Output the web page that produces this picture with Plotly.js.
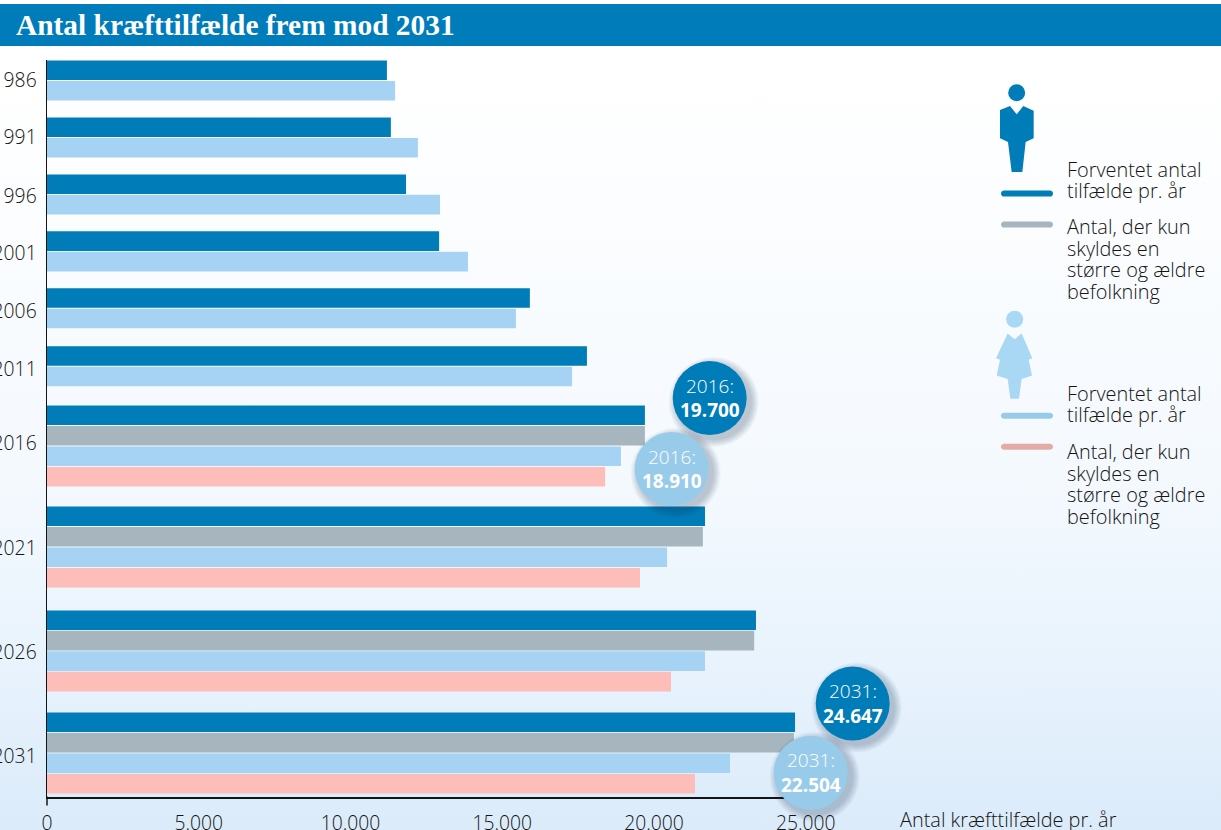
<!DOCTYPE html>
<html lang="da">
<head>
<meta charset="utf-8">
<title>Antal kræfttilfælde frem mod 2031</title>
<script src="https://cdn.plot.ly/plotly-3.0.1.min.js"></script>
<style>
html,body{margin:0;padding:0;width:1221px;height:830px;overflow:hidden}
body{background:linear-gradient(to bottom,#ffffff 0px,#ffffff 70px,#f4f9fe 480px,#eaf4fd 640px,#dbebfa 830px)}
#chart{width:1221px;height:830px}
</style>
</head>
<body>
<div id="chart"></div>
<script>
// ---------- data ----------
const years = ['1986','1991','1996','2001','2006','2011','2016','2021','2026','2031'];
const menExpected   = [11200,11330,11830,12920,15910,17790,19700,21680,23360,24647];
const menAgeing     = [null,null,null,null,null,null,19700,21610,23300,24610];
const womenExpected = [11470,12220,12950,13870,15450,17300,18910,20430,21680,22504];
const womenAgeing   = [null,null,null,null,null,null,18390,19540,20560,21350];
const xTickValues = [0,5000,10000,15000,20000,25000];
const xTickLabels = ['0','5.000','10.000','15.000','20.000','25.000'];
const titleText = 'Antal kræfttilfælde frem mod 2031';
const xAxisLabel = 'Antal kræfttilfælde pr. år';
const legendExpected = ['Forventet antal','tilfælde pr. år'];
const legendAgeing = ['Antal, der kun','skyldes en','større og ældre','befolkning'];

// ---------- layout constants ----------
const W = 1221, H = 830;
const plot = {l:47, r:807, t:60, b:797.5};
const pxPerCase = 0.03035;
const DARK='#007cb8', GREY='#a7b5bf', LIGHT='#a6d3f3', PINK='#fdbdb8';
const INK='#141414';
const SANS='"Open Sans", "Noto Sans", sans-serif';
const slotPx = 20.5;
const gapsPx = [16,16,16,16,17,18.3,19,22,20.2];
const labelNudgePx = [0,0,2,2,3,3,-3,1,1,3];

// ---------- row positions, in bar slots from the top of the axis ----------
const n = years.map((_,i)=> menAgeing[i]===null ? 2 : 4);
const rowStart = [];
let cursor = 0;
n.forEach((c,i)=>{ rowStart.push(cursor); cursor += c + (i<gapsPx.length ? gapsPx[i]/slotPx : 0); });
const yBottom = (plot.b-plot.t)/slotPx;
const rowMid = rowStart.map((s,i)=> s + n[i]/2 + labelNudgePx[i]/slotPx);
const y1 = rowStart.map(s => s + 0.5);
const y2 = rowStart.map(s => s + 1.5);
const y3 = rowStart.map((s,i)=> s + (n[i]===2 ? 1.5 : 2.5));
const y4 = rowStart.map(s => s + 3.5);

function bars(name,x,y,color){
  return {type:'bar',orientation:'h',name,x,y,width:0.955,
          marker:{color,line:{width:0}},hoverinfo:'x+name',showlegend:false};
}
const traces = [
  bars('Mænd: forventet antal',menExpected,y1,DARK),
  bars('Mænd: større og ældre befolkning',menAgeing,y2,GREY),
  bars('Kvinder: forventet antal',womenExpected,y3,LIGHT),
  bars('Kvinder: større og ældre befolkning',womenAgeing,y4,PINK)
];

// ---------- pixel helpers for decorations ----------
const pw = plot.r-plot.l, ph = plot.b-plot.t;
const px = x => (x-plot.l)/pw;
const py = y => (plot.b-y)/ph;
const shapes = [], annotations = [];

function rect(x0,y0,x1,y1,color,layer){
  shapes.push({type:'rect',xref:'paper',yref:'paper',x0:px(x0),x1:px(x1),y0:py(y0),y1:py(y1),
    fillcolor:color,line:{width:0},layer:layer||'below'});
}
function circle(cx,cy,r,color,opacity){
  shapes.push({type:'circle',xref:'paper',yref:'paper',x0:px(cx-r),x1:px(cx+r),y0:py(cy-r),y1:py(cy+r),
    fillcolor:color,opacity:opacity===undefined?1:opacity,line:{width:0},layer:'above'});
}
function poly(points,color){
  const d = points.map((p,i)=>(i?'L':'M')+px(p[0])+','+py(p[1])).join(' ')+' Z';
  shapes.push({type:'path',xref:'paper',yref:'paper',path:d,fillcolor:color,line:{width:0},layer:'above'});
}
function pill(x0,x1,y,t,color){
  const r=t/2, pts=[];
  for(let a=-90;a<=90;a+=20){const q=a*Math.PI/180;pts.push([x1-r+r*Math.cos(q),y+r*Math.sin(q)]);}
  for(let a=90;a<=270;a+=20){const q=a*Math.PI/180;pts.push([x0+r+r*Math.cos(q),y+r*Math.sin(q)]);}
  poly(pts,color);
}
function label(x,y,text,size,color,anchor,weight){
  annotations.push({xref:'paper',yref:'paper',x:px(x),y:py(y),text,showarrow:false,
    xanchor:anchor||'left',yanchor:'middle',align:anchor||'left',borderpad:0,
    font:{family:SANS,size,color,weight:weight||400}});
}
const LEG_SIZE = 19.9;
function textBlock(x,yTop,lines){
  lines.forEach((t,i)=>label(x,yTop+i*21.5,t,LEG_SIZE,INK,'left',300));
}

// header band
rect(0,4,W,46,'#007cba','below');
// y axis lead-out below the x axis
shapes.push({type:'line',xref:'paper',yref:'paper',x0:0,x1:0,y0:py(797),y1:py(806),
  line:{color:INK,width:1.5},layer:'above'});

// legend icons, man
const zx = v => 960+v/3, zy = v => 70+v/3;
circle(zx(170),zy(68),8.5,DARK);
poly([[120,120],[150,108],[170,133],[190,108],[221,122],[221,205],[197,216],[187,306],[155,306],[144,216],[120,205]]
  .map(p=>[zx(p[0]),zy(p[1])]),DARK);
// legend icons, woman
circle(zx(164),zy(748),8.5,'#a9d8f5');
poly([[143,791],[164,808],[185,791],[217,865],[206,870],[216,917],[185,928],[177,987],[151,987],[143,928],[110,917],[120,870],[108,865]]
  .map(p=>[zx(p[0]),zy(p[1])]),'#a9d8f5');
// legend keys
pill(1001,1053,193.7,6,DARK);
pill(1001,1053,224.7,6,GREY);
pill(1001,1053,416,6,'#98cbea');
pill(1001,1053,447,6,'#e4aca6');
// legend text
textBlock(1066,169.5,legendExpected);
textBlock(1066,227,legendAgeing);
textBlock(1066,393.5,legendExpected);
textBlock(1066,452,legendAgeing);

// value badges
function badge(cx,cy,color,yearIdx,value){
  for(let i=8;i>=1;i--) circle(cx+4,cy+4,37+i*1.0,'#1d3a55',0.035);
  circle(cx,cy,37,color);
  label(cx,cy-12.5,years[yearIdx]+':',19,'#ffffff','center',300);
  const s=String(value), txt=s.slice(0,-3)+'.'+s.slice(-3);
  label(cx,cy+12,txt,19,'#ffffff','center',700);
}
badge(709.7,398.3,DARK,6,menExpected[6]);
badge(671.7,469.3,'#98cbea',6,womenExpected[6]);
badge(852.7,704,DARK,9,menExpected[9]);
badge(810.7,773.3,'#98cbea',9,womenExpected[9]);

// x axis caption
label(899,820,xAxisLabel,LEG_SIZE,INK,'left',300);

const tickFont = {family:SANS,size:19.3,color:INK,weight:300};
const layout = {
  width:W,height:H,
  margin:{l:plot.l,r:W-plot.r,t:plot.t,b:H-plot.b,pad:0,autoexpand:false},
  paper_bgcolor:'rgba(0,0,0,0)',plot_bgcolor:'rgba(0,0,0,0)',
  barmode:'overlay',
  showlegend:false,
  title:{text:'<b>'+titleText+'</b>',xref:'container',yref:'container',
    x:16/W,xanchor:'left',y:1-25/H,yanchor:'middle',
    font:{family:'"Liberation Serif", serif',size:29.4,color:'#ffffff'}},
  xaxis:{range:[0,(plot.r-plot.l)/pxPerCase],showgrid:false,zeroline:false,showline:true,linecolor:INK,linewidth:1.5,
    tickmode:'array',tickvals:xTickValues,ticktext:xTickLabels,ticks:'',ticklabelstandoff:8,
    tickfont:tickFont,automargin:false,fixedrange:true},
  yaxis:{range:[yBottom,0],showgrid:false,zeroline:false,showline:true,linecolor:INK,linewidth:1.5,
    tickmode:'array',tickvals:rowMid,ticktext:years,ticks:'',ticklabelstandoff:5,
    tickfont:tickFont,automargin:false,fixedrange:true},
  shapes,annotations
};
Plotly.newPlot('chart',traces,layout,{displayModeBar:false,staticPlot:true});
</script>
</body>
</html>
